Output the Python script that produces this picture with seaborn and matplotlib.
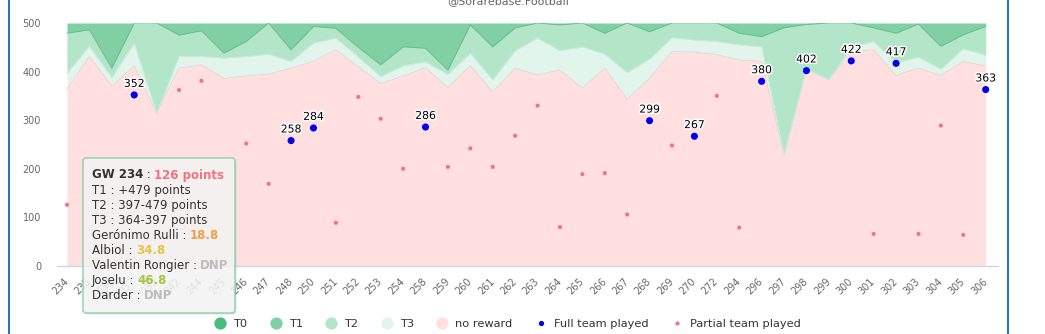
import matplotlib
matplotlib.use("Agg")
import numpy as np
import pandas as pd
import seaborn as sns
import matplotlib.pyplot as plt
import matplotlib.patheffects as pe
from matplotlib.lines import Line2D
from matplotlib.patches import FancyBboxPatch
from matplotlib.transforms import IdentityTransform

# ---------------------------------------------------------------- data
gameweeks = [234, 235, 236, 237, 239, 242, 244, 245, 246, 247, 248, 250, 251, 252,
             253, 254, 258, 259, 260, 261, 262, 263, 264, 265, 266, 267, 268, 269,
             270, 272, 294, 296, 297, 298, 299, 300, 301, 302, 303, 304, 305, 306]

# lower bound (points) of each reward tier per gameweek
t1_threshold = [479, 486, 407, 500, 500, 475, 484, 438, 462, 500, 445, 493, 489, 450,
                414, 451, 448, 403, 496, 451, 490, 500, 496, 500, 479, 500, 482, 500,
                500, 500, 479, 472, 490, 497, 500, 500, 490, 479, 498, 452, 476, 493]
t2_threshold = [397, 452, 388, 458, 314, 431, 431, 428, 431, 436, 421, 459, 469, 430,
                390, 412, 420, 394, 438, 383, 443, 469, 443, 451, 436, 398, 426, 470,
                465, 462, 455, 451, 228, 405, 383, 450, 462, 418, 430, 405, 447, 434]
t3_threshold = [364, 431, 370, 412, 314, 407, 414, 386, 391, 395, 407, 421, 445, 410,
                375, 391, 408, 367, 412, 358, 407, 393, 403, 366, 407, 343, 386, 441,
                440, 435, 424, 421, 228, 405, 383, 440, 445, 392, 407, 392, 421, 411]

full_team_points = [None, None, None, 352, None, None, None, None, None, None, 258, 284,
                    None, None, None, None, 286, None, None, None, None, None, None, None,
                    None, None, 299, None, 267, None, None, 380, None, 402, None, 422,
                    None, 417, None, None, None, 363]
partial_team_points = [126, None, None, None, None, 362, 381, None, 252, 169, None, None,
                       89, 348, 303, 200, None, 204, 242, 204, 268, 330, 80, 189, 191,
                       106, None, 248, None, 350, 79, None, None, None, None, None, 66,
                       None, 66, 289, 64, None]

# line-up of the highlighted gameweek
players = ["Gerónimo Rulli", "Albiol", "Valentin Rongier", "Joselu", "Darder"]
player_scores = [18.8, 34.8, None, 46.8, None]

legend_labels = ["T0", "T1", "T2", "T3", "no reward", "Full team played",
                 "Partial team played"]

# ---------------------------------------------------------------- style
C_T0, C_T1, C_T2, C_T3, C_NONE = "#4cbb7e", "#80d0a3", "#b3e5c9", "#e2f5ec", "#ffdfdf"
C_FULL, C_PART = "#0000ee", "#f07482"
DARK, AXIS_GREY = "#333333", "#666666"

sns.set_theme(style="white")
plt.rcParams["font.family"] = ["DejaVu Sans"]

W, H = 1045, 334
fig = plt.figure(figsize=(W / 100, H / 100), dpi=100)
ax = fig.add_axes([57 / W, (H - 266) / H, (998 - 57) / W, (266 - 23) / H])

df = pd.DataFrame({
    "idx": np.arange(len(gameweeks)),
    "gw": gameweeks,
    "t1": t1_threshold,
    "t2": t2_threshold,
    "t3": t3_threshold,
    "full": pd.array(full_team_points, dtype="Float64"),
    "partial": pd.array(partial_team_points, dtype="Float64"),
})

YMAX = 500
ax.set_xlim(-0.446, len(gameweeks) - 1 + 0.549)
ax.set_ylim(0, YMAX)

# tier bands
ax.fill_between(df["idx"], 0, df["t3"], color=C_NONE, lw=0, zorder=1)
ax.fill_between(df["idx"], df["t3"], df["t2"], color=C_T3, lw=0, zorder=1)
ax.fill_between(df["idx"], df["t2"], df["t1"], color=C_T2, lw=0, zorder=1)
ax.fill_between(df["idx"], df["t1"], YMAX, color=C_T1, lw=0, zorder=1)

# band edges
sns.lineplot(data=df, x="idx", y="t3", color="#ecd3d3", lw=0.7, ax=ax, zorder=2)
sns.lineplot(data=df, x="idx", y="t2", color="#c9ecd9", lw=0.7, ax=ax, zorder=2)
sns.lineplot(data=df, x="idx", y="t1", color="#66be8c", lw=0.7, ax=ax, zorder=2)

# team scores
part = df.dropna(subset=["partial"])
full = df.dropna(subset=["full"])
sns.scatterplot(data=part, x="idx", y="partial", color=C_PART, s=9, edgecolor="none",
                ax=ax, zorder=4, legend=False)
sns.scatterplot(data=full, x="idx", y="full", color=C_FULL, s=26, edgecolor="none",
                ax=ax, zorder=5, legend=False)
for i, v in zip(full["idx"], full["full"]):
    ax.annotate(f"{int(v)}", (i, v), xytext=(0, 8), textcoords="offset points",
                ha="center", va="center", fontsize=7.8, color="black", zorder=6,
                path_effects=[pe.withStroke(linewidth=2.2, foreground="white")])

# axes
ax.set_xlabel("")
ax.set_ylabel("")
ax.set_xticks(df["idx"])
ax.set_xticklabels([str(g) for g in gameweeks])
plt.setp(ax.get_xticklabels(), rotation=45, ha="right", va="center",
         rotation_mode="anchor")
ax.tick_params(axis="x", length=0, pad=10, labelsize=7, labelcolor=AXIS_GREY)
ax.set_yticks(range(0, 501, 100))
ax.tick_params(axis="y", length=0, pad=11.5, labelsize=7, labelcolor=AXIS_GREY)
for side in ["top", "right", "left"]:
    ax.spines[side].set_visible(False)
ax.spines["bottom"].set_color("#ccd6eb")
ax.spines["bottom"].set_linewidth(1)
ax.grid(False)

# legend
handles = [
    Line2D([], [], ls="", marker="o", markersize=8.8, markerfacecolor=c,
           markeredgecolor="none", label=l)
    for c, l in zip([C_T0, C_T1, C_T2, C_T3, C_NONE], legend_labels[:5])
]
handles.append(Line2D([], [], ls="", marker="o", markersize=3.8, markerfacecolor=C_FULL,
                      markeredgecolor="none", label=legend_labels[5]))
handles.append(Line2D([], [], ls="", marker="o", markersize=3.0, markerfacecolor=C_PART,
                      markeredgecolor="none", label=legend_labels[6]))
fig.legend(handles=handles, loc="center", bbox_to_anchor=(0.486, 0.030), ncol=7,
           frameon=False, fontsize=8.2, handlelength=1.0, handletextpad=0.64,
           columnspacing=2.0, borderpad=0, labelcolor=DARK)

# credit line and page frame
fig.text(508 / W, 1 - 4 / H, "@Sorarebase.Football", ha="center", va="baseline",
         fontsize=8, color=AXIS_GREY)
for xf in (9, 1008):
    fig.add_artist(Line2D([xf / W, xf / W], [0, 1], color="#2e74b5", lw=1.5,
                          transform=fig.transFigure))

# ---------------------------------------------------------------- tooltip
renderer = fig.canvas.get_renderer()
px = IdentityTransform()
TT_SIZE = 8.5


def text_width(s, weight):
    probe = fig.text(0, 0, s + "|", fontsize=TT_SIZE, fontweight=weight, transform=px)
    w1 = probe.get_window_extent(renderer).width
    probe.remove()
    probe = fig.text(0, 0, "|", fontsize=TT_SIZE, fontweight=weight, transform=px)
    w2 = probe.get_window_extent(renderer).width
    probe.remove()
    return w1 - w2


def put_segments(segments, x, y):
    for s, color, weight in segments:
        fig.text(x, y, s, transform=px, fontsize=TT_SIZE, color=color,
                 fontweight=weight, ha="left", va="center", zorder=21)
        x += text_width(s, weight)


def score_colour(score):
    if score is None:
        return "#bdbdbd"
    if score < 20:
        return "#f0a04b"
    if score < 40:
        return "#e6c445"
    return "#a6c43f"


tt_left, tt_top, tt_right, tt_bottom = 83, 158, 235, 313
tt_w, tt_h = tt_right - tt_left, tt_bottom - tt_top
fig.add_artist(FancyBboxPatch((tt_left + 1.5, H - tt_bottom - 1.5), tt_w, tt_h,
                              boxstyle="round,pad=0,rounding_size=3", transform=px,
                              fc="black", ec="none", alpha=0.10, zorder=19))
fig.add_artist(FancyBboxPatch((tt_left, H - tt_bottom), tt_w, tt_h,
                              boxstyle="round,pad=0,rounding_size=3", transform=px,
                              fc=(0.969, 0.969, 0.969, 0.86), ec="#86d2a7", lw=1,
                              zorder=20))

i0 = 0
lines = [
    [(f"GW {gameweeks[i0]}", DARK, "bold"), (" : ", DARK, "normal"),
     (f"{partial_team_points[i0]} points", "#f4727f", "bold")],
    [(f"T1 : +{t1_threshold[i0]} points", DARK, "normal")],
    [(f"T2 : {t2_threshold[i0]}-{t1_threshold[i0]} points", DARK, "normal")],
    [(f"T3 : {t3_threshold[i0]}-{t2_threshold[i0]} points", DARK, "normal")],
]
for name, score in zip(players, player_scores):
    label = "DNP" if score is None else f"{score}"
    lines.append([(f"{name} : ", DARK, "normal"), (label, score_colour(score), "bold")])

for k, segs in enumerate(lines):
    put_segments(segs, 91.5, H - (175 + 15.1 * k))

fig.savefig("out.png", dpi=100)
